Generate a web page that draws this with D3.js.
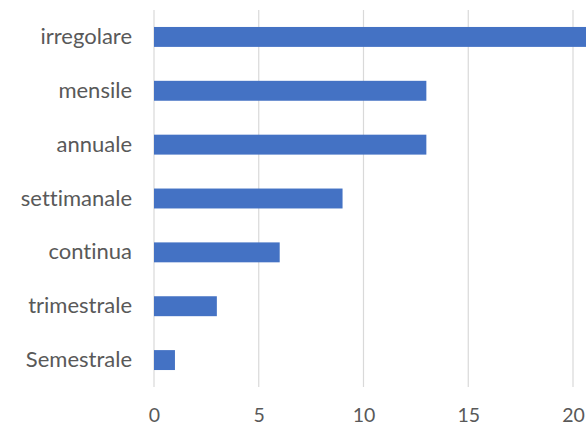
<!DOCTYPE html>
<html>
<head>
<meta charset="utf-8">
<script src="https://d3js.org/d3.v7.min.js"></script>
<style>
  body { margin: 0; background: #fff; }
  svg { display: block; }
  .tick text { font-family: Lato, "Open Sans", sans-serif; fill: #595959; font-variant-ligatures: none; }
</style>
</head>
<body>
<div id="chartArea"></div>
<script>
// data setup
var categories = ["irregolare", "mensile", "annuale", "settimanale", "continua", "trimestrale", "Semestrale"];
var values = [21, 13, 13, 9, 6, 3, 1];
var xTicks = [0, 5, 10, 15, 20];

var width = 586, height = 425;
var margin = { top: 10, left: 154, bottom: 38 };
var unit = 20.95; // px per unit, as in the picture (axis runs past the right edge)

var svg = d3.select("#chartArea").append("svg")
  .attr("width", width)
  .attr("height", height);

var x = d3.scaleLinear()
  .domain([0, 25])
  .range([margin.left, margin.left + 25 * unit]);

var y = d3.scaleBand()
  .domain(categories)
  .range([margin.top, height - margin.bottom])
  .paddingInner(0.63)
  .paddingOuter(0.315);

// gridlines
svg.append("g")
  .selectAll("line")
  .data(xTicks)
  .enter().append("line")
  .attr("x1", function(d) { return x(d); })
  .attr("x2", function(d) { return x(d); })
  .attr("y1", margin.top)
  .attr("y2", height - margin.bottom)
  .attr("stroke", "#d9d9d9")
  .attr("stroke-width", 1.2);

// bars
svg.append("g")
  .selectAll("rect")
  .data(categories)
  .enter().append("rect")
  .attr("x", x(0))
  .attr("y", function(d) { return y(d); })
  .attr("width", function(d, i) { return x(values[i]) - x(0); })
  .attr("height", y.bandwidth())
  .attr("fill", "#4472c4");

// x axis
var xAxis = svg.append("g")
  .attr("transform", "translate(0," + (height - margin.bottom) + ")")
  .call(d3.axisBottom(x).tickValues(xTicks).tickSize(0).tickPadding(21));
xAxis.select(".domain").remove();
xAxis.selectAll("text").style("font-size", "19.5px");

// y axis
var yAxis = svg.append("g")
  .attr("transform", "translate(" + (margin.left - 22) + ",0)")
  .call(d3.axisLeft(y).tickSize(0).tickPadding(0));
yAxis.select(".domain").remove();
yAxis.selectAll("text").style("font-size", "22px");
</script>
</body>
</html>
